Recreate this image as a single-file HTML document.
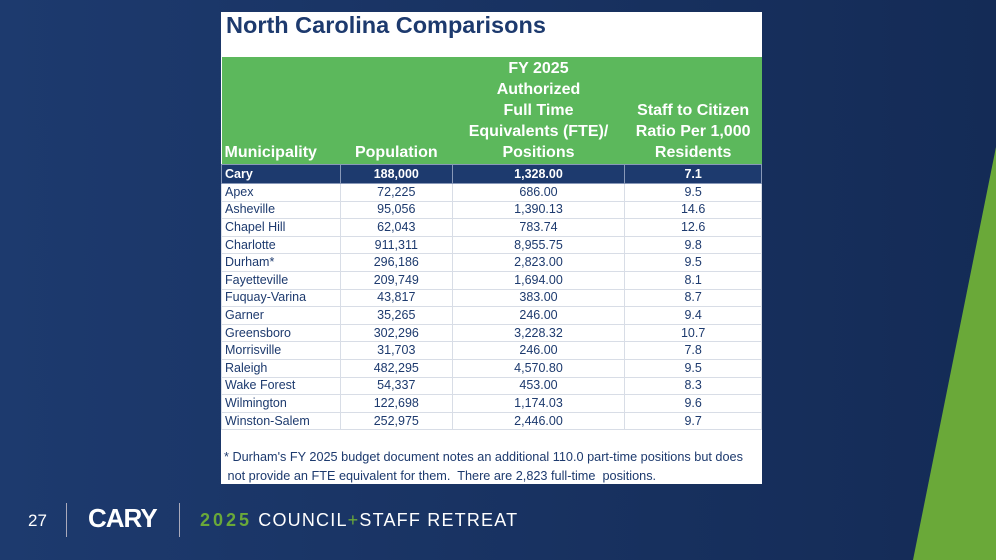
<!DOCTYPE html>
<html><head><style>
body{margin:0;width:996px;height:560px;overflow:hidden;background:linear-gradient(90deg,#1d3a6e,#142b56);font-family:"Liberation Sans",Arial,sans-serif;position:relative}
.box{position:absolute;left:221px;top:12px;width:541px;height:472px;background:#fff}
.title{position:absolute;left:5px;top:0px;font-size:23.5px;font-weight:bold;color:#1d3a6e}
table{position:absolute;left:0;top:45px;width:541px;border-collapse:collapse;font-size:12.5px;color:#1d3a6e}
th{background:#5cb85c;color:#fff;font-size:16px;font-weight:bold;vertical-align:bottom;height:106px;padding:0 0 1px;line-height:21px}
td{height:16.6px;padding:0 3px;border:1px solid #d8dde6;text-align:center;line-height:15px}
td:first-child{text-align:left}
tr.c td{background:#1d3a6e;color:#fff;font-weight:bold;height:18px;border-color:#8898b8}
.foot{position:absolute;left:3px;top:436px;font-size:12.7px;color:#1d3a6e;line-height:19px;white-space:nowrap}
.ft{position:absolute;top:507px;color:#fff}
</style></head><body>
<svg style="position:absolute;left:0;top:0" width="996" height="560"><polygon points="996,147 996,560 913,560" fill="#6aa939"/></svg>
<div class="box">
<div class="title">North Carolina Comparisons</div>
<table>
<colgroup><col style="width:119px"><col style="width:112px"><col style="width:173px"><col style="width:137px"></colgroup>
<tr><th style="text-align:left;padding-left:3px">Municipality</th><th>Population</th><th>FY 2025<br>Authorized<br>Full Time<br>Equivalents (FTE)/<br>Positions</th><th>Staff to Citizen<br>Ratio Per 1,000<br>Residents</th></tr>
<tr class="c"><td>Cary</td><td>188,000</td><td>1,328.00</td><td>7.1</td></tr>
<tr><td>Apex</td><td>72,225</td><td>686.00</td><td>9.5</td></tr>
<tr><td>Asheville</td><td>95,056</td><td>1,390.13</td><td>14.6</td></tr>
<tr><td>Chapel Hill</td><td>62,043</td><td>783.74</td><td>12.6</td></tr>
<tr><td>Charlotte</td><td>911,311</td><td>8,955.75</td><td>9.8</td></tr>
<tr><td>Durham*</td><td>296,186</td><td>2,823.00</td><td>9.5</td></tr>
<tr><td>Fayetteville</td><td>209,749</td><td>1,694.00</td><td>8.1</td></tr>
<tr><td>Fuquay-Varina</td><td>43,817</td><td>383.00</td><td>8.7</td></tr>
<tr><td>Garner</td><td>35,265</td><td>246.00</td><td>9.4</td></tr>
<tr><td>Greensboro</td><td>302,296</td><td>3,228.32</td><td>10.7</td></tr>
<tr><td>Morrisville</td><td>31,703</td><td>246.00</td><td>7.8</td></tr>
<tr><td>Raleigh</td><td>482,295</td><td>4,570.80</td><td>9.5</td></tr>
<tr><td>Wake Forest</td><td>54,337</td><td>453.00</td><td>8.3</td></tr>
<tr><td>Wilmington</td><td>122,698</td><td>1,174.03</td><td>9.6</td></tr>
<tr><td>Winston-Salem</td><td>252,975</td><td>2,446.00</td><td>9.7</td></tr>
</table>
<div class="foot">* Durham's FY 2025 budget document notes an additional 110.0 part-time positions but does<br>&nbsp;not provide an FTE equivalent for them.&nbsp; There are 2,823 full-time&nbsp; positions.</div>
</div>
<div class="ft" style="left:28px;top:511px;font-size:17px">27</div>
<div style="position:absolute;left:66px;top:503px;width:1px;height:34px;background:#aab"></div>
<div class="ft" style="left:88px;top:503px;font-size:26px;font-weight:bold;letter-spacing:-1px">CARY</div>
<div style="position:absolute;left:179px;top:503px;width:1px;height:34px;background:#aab"></div>
<div class="ft" style="left:200px;top:510px;font-size:18px;letter-spacing:1.2px;white-space:nowrap"><b style="color:#6aa939;letter-spacing:3px">2025</b> COUNCIL<span style="color:#6aa939">+</span>STAFF RETREAT</div>
</body></html>
